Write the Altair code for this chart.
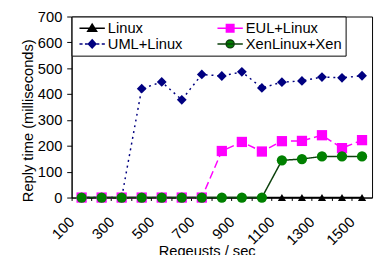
import altair as alt
import pandas as pd

requests = [100, 200, 300, 400, 500, 600, 700, 800, 900, 1000, 1100, 1200, 1300, 1400, 1500]
series_names = ["Linux", "UML+Linux", "EUL+Linux", "XenLinux+Xen"]
linux = [0, 0, 0, 0, 0, 0, 0, 0, 0, 0, 0, 0, 0, 0, 0]
uml = [0, 0, 0, 421, 447, 378, 476, 470, 486, 424, 446, 451, 466, 463, 471]
eul = [0, 0, 0, 0, 0, 0, 0, 180, 215, 178, 218, 219, 241, 191, 222]
xen = [0, 0, 0, 0, 0, 0, 0, 0, 0, 0, 144, 149, 159, 159, 159]
y_ticks = [0, 100, 200, 300, 400, 500, 600, 700]

line_colors = ["#000000", "#000080", "#FF00FF", "#0B400B"]
marker_colors = ["#000000", "#000080", "#FF00FF", "#008000"]
marker_shapes = ["triangle-up", "diamond", "square", "circle"]
marker_sizes = [70, 100, 110, 110]
dashes = [[1, 0], [2, 4], [8, 4], [1, 0]]

# legend symbols: line + marker drawn as one path
legend_paths = [
    "M-1.85,0H1.85M0,-0.6L0.65,0.45L-0.65,0.45Z",
    "M-1.85,0H-1.4M-1.05,0H-0.65M0.65,0H1.05M1.4,0H1.85M0,-0.6L0.55,0L0,0.6L-0.55,0Z",
    "M-1.85,0H1.85M-0.55,-0.55H0.55V0.55H-0.55Z",
    "M-1.85,0H1.85M0.58,0A0.58,0.58 0 1,1 -0.58,0A0.58,0.58 0 1,1 0.58,0Z",
]

rows = []
for name, vals in zip(series_names, [linux, uml, eul, xen]):
    for r, v in zip(requests, vals):
        rows.append({"req": r, "series": name, "ms": v})
df = pd.DataFrame(rows)

FONT = "Liberation Sans"

# the line scales use a different domain order so their (hidden) legend
# does not merge with the visible one
line_order = [series_names[i] for i in (0, 2, 1, 3)]
line_color_range = [line_colors[i] for i in (0, 2, 1, 3)]
line_dash_range = [dashes[i] for i in (0, 2, 1, 3)]

x_enc = alt.X(
    "req:O",
    sort=requests,
    scale=alt.Scale(type="band", paddingInner=0, paddingOuter=0),
    axis=alt.Axis(
        title="Reqeusts / sec",
        bandPosition=0,
        labelAngle=-45,
        labelAlign="right",
        labelBaseline="top",
        labelExpr="datum.value % 200 == 100 ? datum.label : ''",
        labelOverlap=False,
        labelOffset=-15,
        labelPadding=14,
        tickSize=3,
        titleX=138,
        titleY=47,
    ),
)
y_enc = alt.Y(
    "ms:Q",
    scale=alt.Scale(domain=[0, 700], nice=False),
    axis=alt.Axis(
        title="Reply time (milliseconds)",
        values=y_ticks,
        tickSize=5,
        labelPadding=5,
        titleX=-37,
        titleY=106,
    ),
)

base = alt.Chart(df)

lines = base.mark_line(strokeWidth=1.5).encode(
    x=x_enc,
    y=y_enc,
    color=alt.Color("series:N", scale=alt.Scale(domain=line_order, range=line_color_range), legend=None),
    strokeDash=alt.StrokeDash("series:N", scale=alt.Scale(domain=line_order, range=line_dash_range), legend=None),
)

point_layers = []
for name, shape, col, size in zip(series_names, marker_shapes, marker_colors, marker_sizes):
    point_layers.append(
        base.mark_point(filled=True, shape=shape, size=size, color=col, opacity=1)
        .encode(x=x_enc, y=y_enc)
        .transform_filter(alt.datum.series == name)
    )

leg = alt.Legend(
    title=None,
    orient="none",
    legendX=0,
    legendY=0,
    columns=2,
    columnPadding=31,
    rowPadding=0,
    padding=4,
    strokeColor="black",
    fillColor="white",
    labelFont=FONT,
    labelFontSize=15,
    labelColor="black",
    labelOffset=8,
    symbolOffset=9,
    symbolSize=196,
    symbolStrokeWidth=1.5,
    symbolOpacity=1,
)
legend_layer = (
    base.mark_point(filled=True, size=196, opacity=1)
    .encode(
        x=x_enc,
        y=y_enc,
        fill=alt.Fill("series:N", scale=alt.Scale(domain=series_names, range=marker_colors), legend=leg),
        stroke=alt.Stroke("series:N", scale=alt.Scale(domain=series_names, range=line_colors), legend=leg),
        shape=alt.Shape("series:N", scale=alt.Scale(domain=series_names, range=legend_paths), legend=leg),
    )
    .transform_filter(alt.datum.ms < 0)
)

chart = (
    alt.layer(lines, *point_layers, legend_layer)
    .properties(
        width=307,
        height=185,
        autosize=alt.AutoSizeParams(type="none"),
        padding={"left": 65, "top": 6, "right": 2, "bottom": 56},
    )
    .configure_view(stroke="black", strokeWidth=1)
    .configure_axis(
        labelFont=FONT,
        titleFont=FONT,
        labelFontSize=15,
        titleFontSize=15,
        titleFontWeight="normal",
        labelColor="black",
        titleColor="black",
        domainColor="black",
        tickColor="black",
        grid=False,
    )
)

chart.save("out.html", embed_options={"renderer": "svg", "actions": False})
